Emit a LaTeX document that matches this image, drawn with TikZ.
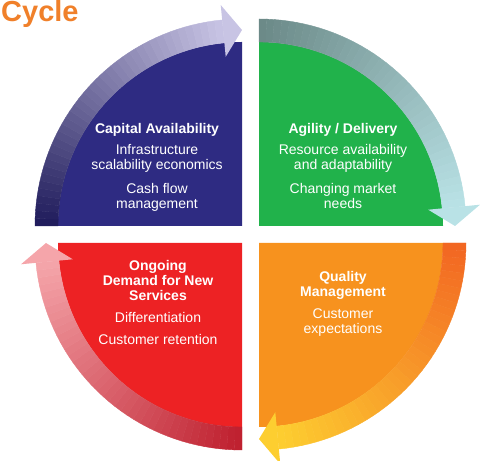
\documentclass[tikz,border=0pt]{standalone}
\usepackage{fontspec}
\setmainfont{Liberation Sans}

\definecolor{capblue}{RGB}{46,43,130}
\definecolor{agilgreen}{RGB}{33,178,75}
\definecolor{qualorange}{RGB}{247,146,30}
\definecolor{demred}{RGB}{237,34,36}
\definecolor{titleorange}{RGB}{240,128,42}
\definecolor{blueA}{RGB}{30,26,90}
\definecolor{blueB}{RGB}{200,196,228}
\definecolor{greenA}{RGB}{106,136,134}
\definecolor{greenB}{RGB}{185,226,230}
\definecolor{orangeA}{RGB}{242,101,34}
\definecolor{orangeB}{RGB}{253,206,48}
\definecolor{redA}{RGB}{190,30,45}
\definecolor{redB}{RGB}{245,165,170}

% curved band with a colour run, then its head
% #1 centre, #2 start angle, #3 head angle, #4 tip angle, #5 start colour, #6 head colour
\newcommand{\cyclearrow}[6]{%
  \begin{scope}[shift={(#1)}]
    \foreach \k in {1,...,40} {
      \pgfmathsetmacro\angA{#2+(#3-(#2))*(\k-1)/40}
      \pgfmathsetmacro\angB{#2+(#3-(#2))*\k/40}
      \pgfmathtruncatemacro\pc{100-(\k-0.5)*2.5}
      \path[fill=#5!\pc!#6, draw=#5!\pc!#6, line width=0.4pt]
        (\angA:184) arc[start angle=\angA, end angle=\angB, radius=184]
        -- (\angB:207) arc[start angle=\angB, end angle=\angA, radius=207] -- cycle;
    }
    \fill[#6] (#3:170) -- (#4:196) -- (#3:222) -- cycle;
  \end{scope}%
}

\begin{document}
\begin{tikzpicture}[x=1pt, y=1pt,
    quadtext/.style={text=white, align=center, anchor=north, inner sep=0pt,
      font=\fontsize{14}{15}\selectfont}]
  \useasboundingbox (0,0) rectangle (484,460);

  \coordinate (cb) at (242,234);
  \coordinate (cg) at (259,234);
  \coordinate (co) at (259,217);
  \coordinate (cr) at (242,217);

  % quarters
  \fill[capblue] (cb) -- ++(180:184) arc[start angle=180, end angle=90, radius=184] -- cycle;
  \fill[agilgreen] (cg) -- ++(90:184) arc[start angle=90, end angle=0, radius=184] -- cycle;
  \fill[qualorange] (co) -- ++(0:184) arc[start angle=0, end angle=-90, radius=184] -- cycle;
  \fill[demred] (cr) -- ++(270:184) arc[start angle=270, end angle=180, radius=184] -- cycle;

  % arrows round the cycle
  \cyclearrow{cb}{180}{95.5}{90}{blueA}{blueB}
  \cyclearrow{cg}{90}{5.5}{0}{greenA}{greenB}
  \cyclearrow{co}{0}{-84.5}{-90}{orangeA}{orangeB}
  \cyclearrow{cr}{270}{185.5}{180}{redA}{redB}

  \node[anchor=base west, inner sep=0pt, text=titleorange,
    font=\fontsize{29}{29}\selectfont\bfseries] (title) at (1,438) {Cycle};

  \node[quadtext] (capital) at (157,337) {\textbf{Capital Availability}\\[6pt]
    Infrastructure\\ scalability economics\\[9pt] Cash flow\\ management};
  \node[quadtext] (agility) at (343,337) {\textbf{Agility / Delivery}\\[6pt]
    Resource availability\\ and adaptability\\[9pt] Changing market\\ needs};
  \node[quadtext] (demand) at (158,200) {\textbf{Ongoing}\\ \textbf{Demand for New}\\
    \textbf{Services}\\[7pt] Differentiation\\[7pt] Customer retention};
  \node[quadtext] (quality) at (343,189) {\textbf{Quality}\\ \textbf{Management}\\[7pt]
    Customer\\ expectations};
\end{tikzpicture}
\end{document}
